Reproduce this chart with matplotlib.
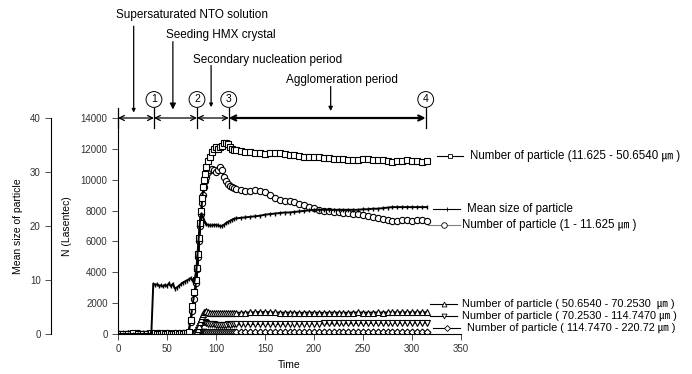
import numpy as np
import matplotlib
matplotlib.use('Agg')
import matplotlib.pyplot as plt

plt.rcParams['font.family'] = ['Liberation Sans', 'Noto Sans CJK JP', 'DejaVu Sans']

# Tempo (s)
time = [0, 5, 10, 15, 20, 25, 30, 34,
        36, 38, 40, 42, 44, 46, 48, 50, 52, 54, 56, 58, 60, 62, 64, 66, 68, 70,
        72, 74, 76, 78, 80, 81, 82, 83, 84, 85, 86, 87, 88, 89, 90, 92, 94, 96, 98, 100,
        102, 104, 106, 108, 110, 112, 114, 116, 118, 120,
        125, 130, 135, 140, 145, 150, 155, 160, 165, 170, 175, 180, 185, 190, 195, 200,
        205, 210, 215, 220, 225, 230, 235, 240, 245, 250, 255, 260, 265, 270, 275, 280,
        285, 290, 295, 300, 305, 310, 315]

# Número de partículas (11.625 - 50.6540 um)
n_11_50 = [30, 20, 30, 40, 30, 20, 30, 40,
           30, 40, 30, 20, 30, 40, 30, 30, 40, 30, 20, 30, 40, 30, 40, 30, 40, 60,
           100, 900, 1800, 2700, 3500, 4300, 5200, 6200, 7200, 8000, 8800, 9500, 10000, 10400, 10800,
           11200, 11500, 11800, 12000, 12100,
           12000, 12100, 12200, 12350, 12400, 12300, 12100, 12000, 11950, 11900,
           11850, 11800, 11800, 11750, 11700, 11650, 11700, 11750, 11700, 11650, 11600, 11600,
           11550, 11500, 11500, 11450,
           11450, 11400, 11400, 11350, 11350, 11350, 11300, 11300, 11300, 11350, 11350, 11300,
           11300, 11250, 11200, 11150,
           11200, 11200, 11250, 11200, 11200, 11150, 11200]

# Número de partículas (1 - 11.625 um)
n_1_11 = [20, 30, 20, 30, 40, 20, 30, 20,
          30, 20, 30, 40, 30, 20, 30, 40, 30, 20, 30, 40, 30, 20, 30, 40, 30, 50,
          100, 800, 1500, 2300, 3300, 4200, 5000, 6000, 7000, 7800, 8500, 9000, 9500, 9900, 10200,
          10500, 10600, 10700, 10600, 10500,
          10600, 10800, 10600, 10200, 9900, 9700, 9600, 9500, 9450, 9400,
          9350, 9300, 9250, 9350, 9300, 9200, 9000, 8800, 8700, 8650, 8600, 8550,
          8400, 8350, 8200, 8150,
          8050, 8000, 7950, 7900, 7900, 7850, 7850, 7800, 7750, 7700, 7650, 7600,
          7500, 7450, 7400, 7350,
          7350, 7400, 7400, 7350, 7400, 7400, 7300]

# Tamanho médio das partículas (um)
mean_size = [0, 0, 0, 0, 0, 0, 0, 0,
             9.3, 9.1, 9.2, 8.9, 9.0, 8.8, 9.1, 8.9, 9.4, 8.8, 9.3, 8.4, 8.6, 8.9, 9.2, 9.5, 9.7, 9.9,
             10.1, 10.3, 10.0, 9.8, 12.0, 14.5, 17.0, 19.5, 21.5, 22.3, 22.0, 21.5, 21.0, 20.6, 20.3,
             20.2, 20.1, 20.1, 20.2, 20.2,
             20.1, 20.0, 20.0, 20.2, 20.5, 20.7, 20.9, 21.1, 21.3, 21.4,
             21.5, 21.6, 21.7, 21.8, 21.9, 22.1, 22.2, 22.3, 22.4, 22.5, 22.5, 22.6,
             22.7, 22.8, 22.9, 23.0,
             23.0, 23.0, 23.0, 23.0, 23.0, 23.0, 23.0, 23.0, 23.0, 23.1, 23.1, 23.2,
             23.2, 23.3, 23.4, 23.5,
             23.5, 23.5, 23.5, 23.5, 23.5, 23.5, 23.5]

# Número de partículas (50.6540 - 70.2530 um)
n_50_70 = [40, 30, 40, 50, 40, 30, 40, 50,
           40, 50, 40, 30, 40, 50, 40, 30, 40, 50, 40, 30, 40, 50, 40, 50, 40, 50,
           50, 60, 50, 60, 100, 200, 350, 550, 750, 950, 1150, 1300, 1400, 1450, 1480,
           1400, 1350, 1370, 1350, 1360,
           1350, 1370, 1360, 1350, 1370, 1380, 1360, 1350, 1370, 1380,
           1380, 1390, 1400, 1410, 1420, 1420, 1410, 1400, 1390, 1380, 1390, 1380,
           1370, 1380, 1390, 1380,
           1380, 1370, 1380, 1390, 1380, 1370, 1380, 1390, 1400, 1390, 1380, 1390,
           1400, 1390, 1400, 1410,
           1400, 1410, 1400, 1410, 1400, 1410, 1400]

# Número de partículas (70.2530 - 114.7470 um)
n_70_114 = [20, 10, 20, 30, 20, 10, 20, 30,
            20, 30, 20, 10, 20, 30, 20, 10, 20, 30, 20, 10, 20, 30, 20, 30, 20, 30,
            30, 40, 30, 40, 60, 120, 250, 400, 550, 680, 760, 800, 790, 760, 720,
            680, 650, 640, 620, 610,
            600, 600, 610, 600, 610, 620, 610, 620, 630, 620,
            630, 640, 640, 650, 650, 660, 660, 650, 660, 660, 670, 670,
            670, 680, 680, 680,
            680, 690, 690, 690, 700, 700, 700, 700, 710, 710, 710, 720,
            720, 720, 730, 730,
            730, 730, 740, 740, 740, 740, 740]

# Número de partículas (114.7470 - 220.72 um)
n_114_220 = [10, 20, 10, 20, 10, 20, 10, 20,
             10, 20, 10, 20, 10, 20, 10, 20, 10, 20, 10, 20, 10, 20, 10, 20, 10, 20,
             20, 20, 20, 20, 30, 40, 60, 80, 90, 100, 100, 100, 100, 100, 100,
             100, 100, 100, 100, 100,
             100, 100, 100, 100, 100, 100, 100, 100, 100, 100,
             100, 100, 100, 100, 100, 100, 100, 100, 100, 100, 100, 100,
             100, 100, 100, 100,
             100, 100, 100, 100, 100, 100, 100, 100, 100, 100, 100, 100,
             100, 100, 100, 100,
             100, 100, 100, 100, 100, 100, 100]

W, H = 692, 374
fig = plt.figure(figsize=(W / 100, H / 100), dpi=100)
ax = fig.add_axes([118 / W, 1 - 334 / H, 343 / W, 216 / H])

def fx(px):
    return px / W

def fy(py):
    return 1 - py / H

mk = dict(markerfacecolor='white', markeredgecolor='black', markeredgewidth=0.8, color='black', lw=1.4)

# Eixo do tamanho médio (à esquerda, deslocado)
ax2 = ax.twinx()
ax2.plot(time, mean_size, marker='|', markersize=3.5, color='black', lw=1.4, zorder=3)
ax2.set_ylim(0, 40)
ax2.spines['right'].set_visible(False)
ax2.spines['top'].set_visible(False)
ax2.spines['bottom'].set_visible(False)
ax2.spines['left'].set_position(('axes', -67 / 343))
ax2.yaxis.set_ticks_position('left')
ax2.yaxis.set_label_position('left')
ax2.set_yticks([0, 10, 20, 30, 40])
ax2.set_ylabel('Mean size of particle', fontsize=7.5, labelpad=5)
ax2.tick_params(axis='y', labelsize=7, length=4, width=0.6, colors='#333333')

ax.plot(time, n_114_220, marker='D', markersize=3.5, **mk)
ax.plot(time, n_70_114, marker='v', markersize=4, **mk)
ax.plot(time, n_50_70, marker='^', markersize=4, **mk)
ax.plot(time, n_1_11, marker='o', markersize=4.5, **mk)
ax.plot(time, n_11_50, marker='s', markersize=4, **mk)

ax.set_xlim(0, 350)
ax.set_ylim(0, 14000)
ax.set_xticks(np.arange(0, 351, 50))
ax.set_yticks(np.arange(0, 14001, 2000))
ax.spines['top'].set_visible(False)
ax.spines['right'].set_visible(False)
ax.tick_params(labelsize=7, length=4, width=0.6, colors='#333333')
ax.set_xlabel('Time', fontsize=7.5, labelpad=4)
ax.set_ylabel('N (Lasentec)', fontsize=7.5, labelpad=6)

# Linha do tempo no topo
bounds = [0, 36.7, 80.6, 113, 314]
for i in range(4):
    ax.annotate('', xy=(bounds[i], 14000), xytext=(bounds[i + 1], 14000),
                arrowprops=dict(arrowstyle='<->', lw=1.6 if i == 3 else 0.9, color='black',
                                shrinkA=0, shrinkB=0, mutation_scale=9),
                annotation_clip=False)
for b in bounds:
    ax.plot([b, b], [13350, 14650], color='black', lw=0.9, clip_on=False)
for num, b in zip(['1', '2', '3', '4'], bounds[1:]):
    ax.text(b, 15200, num, ha='center', va='center', fontsize=7.5,
            bbox=dict(boxstyle='circle,pad=0.28', fc='white', ec='black', lw=0.7))

notes = [('Supersaturated NTO solution', 76, 20670, 16, 19950, 14350, 5),
         ('Seeding HMX crystal', 105, 19350, 56, 18950, 14550, 9),
         ('Secondary nucleation period', 152.5, 17790, 95, 17400, 14700, 5),
         ('Agglomeration period', 228, 16490, 217, 16040, 14450, 6)]
for label, tx, ty, ax_x, y0, y1, ms in notes:
    ax.text(tx, ty, label, ha='center', va='center', fontsize=8.5)
    ax.annotate('', xy=(ax_x, y1), xytext=(ax_x, y0),
                arrowprops=dict(arrowstyle='-|>', lw=0.9, color='black', shrinkA=0, shrinkB=0,
                                mutation_scale=ms),
                annotation_clip=False)

# Legenda manual à direita
um = '\u339b'
legend = [(437, 463, 156, 's', 3.5, 470, 'Number of particle (11.625 - 50.6540 ' + um + ' )', 'black', 8.3),
          (433, 460, 209, '|', 3, 467, 'Mean size of particle', 'black', 8.3),
          (428, 460, 225, 'o', 4, 462, 'Number of particle (1 - 11.625 ' + um + ' )', 'gray', 8.3),
          (430, 457, 304, '^', 3.5, 462, 'Number of particle ( 50.6540 - 70.2530  ' + um + ' )', 'black', 7.9),
          (430, 457, 316, 'v', 3.5, 462, 'Number of particle ( 70.2530 - 114.7470 ' + um + ' )', 'black', 7.9),
          (433, 460, 328, 'D', 3, 467, 'Number of particle ( 114.7470 - 220.72 ' + um + ' )', 'black', 7.9)]
for x0, x1, py, m, ms, tx, label, c, fs in legend:
    fig.add_artist(plt.Line2D([fx(x0), fx(x1)], [fy(py), fy(py)], color=c, lw=0.8))
    fig.add_artist(plt.Line2D([fx((x0 + x1) / 2)], [fy(py)], marker=m, markersize=ms,
                              markerfacecolor='white', markeredgecolor='black', markeredgewidth=0.6))
    fig.text(fx(tx), fy(py), label, fontsize=fs, va='center', ha='left')

fig.savefig('out.png', dpi=100)
